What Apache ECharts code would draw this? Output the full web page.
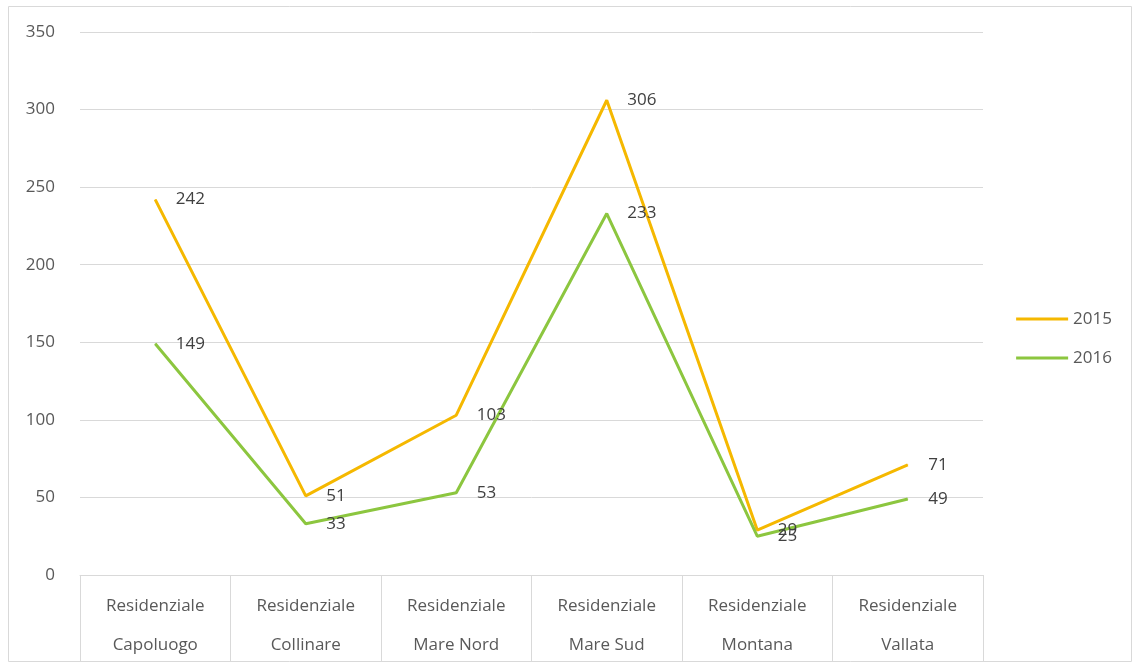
<!DOCTYPE html>
<html><head><meta charset="utf-8">
<script src="https://cdn.jsdelivr.net/npm/echarts@6/dist/echarts.min.js"></script>
<style>html,body{margin:0;padding:0;background:#fff}#c{width:1133px;height:669px}</style>
</head><body><div id="c"></div>
<script>
var categories = ['Residenziale\nCapoluogo','Residenziale\nCollinare','Residenziale\nMare Nord','Residenziale\nMare Sud','Residenziale\nMontana','Residenziale\nVallata'];
var series2015 = [242, 51, 103, 306, 29, 71];
var series2016 = [149, 33, 53, 233, 25, 49];
var seriesNames = ['2015', '2016'];

var chart = echarts.init(document.getElementById('c'));
var font = 'Open Sans';
var fs = 17;
function lineSeries(name, data, color) {
  return {
    name: name, type: 'line', data: data, symbol: 'circle', symbolSize: 1, showSymbol: true,
    lineStyle: {color: color, width: 3}, itemStyle: {color: color},
    label: {show: true, position: 'right', distance: 20, color: '#404040', fontSize: fs, fontFamily: font},
    animation: false
  };
}
chart.setOption({
  animation: false,
  graphic: [{type: 'rect', shape: {x: 8.5, y: 6.5, width: 1123, height: 655}, style: {fill: 'none', stroke: '#D9D9D9', lineWidth: 1}, silent: true}],
  grid: {left: 80, right: 150, top: 32, bottom: 94},
  legend: {
    orient: 'vertical', right: 16, top: 305, itemWidth: 52, itemHeight: 3, itemGap: 21,
    icon: 'rect',
    textStyle: {color: '#595959', fontSize: fs, lineHeight: 18, fontFamily: font},
    data: seriesNames
  },
  xAxis: {
    type: 'category', data: categories, boundaryGap: true,
    axisLine: {lineStyle: {color: '#D9D9D9', width: 1}},
    axisTick: {show: true, length: 86, lineStyle: {color: '#D9D9D9'}},
    axisLabel: {color: '#595959', fontSize: fs, fontFamily: font, lineHeight: 39, margin: 12, interval: 0}
  },
  yAxis: {
    type: 'value', min: 0, max: 350, interval: 50,
    axisLine: {show: false}, axisTick: {show: false},
    splitLine: {lineStyle: {color: '#D9D9D9', width: 1}},
    axisLabel: {color: '#595959', fontSize: fs, fontFamily: font, margin: 25}
  },
  series: [
    lineSeries(seriesNames[0], series2015, '#F5B800'),
    lineSeries(seriesNames[1], series2016, '#8CC63F')
  ]
});
</script></body></html>
